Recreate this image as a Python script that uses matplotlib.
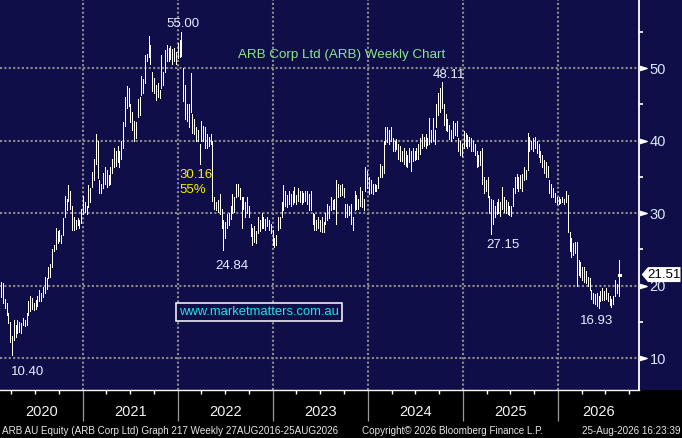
import numpy as np
import pandas as pd
import matplotlib
matplotlib.use('Agg')
import matplotlib.pyplot as plt
import matplotlib.dates as mdates
import matplotlib.ticker as mticker
import matplotlib.transforms as mtransforms
from matplotlib.patches import Polygon, Rectangle

# ARB Corp Ltd weekly bars (high / low per week)
weeks = pd.date_range('2020-02-21', periods=340, freq='7D')

high = [
    20.5, 20.3, 18.2, 17.6, 16.2, 15.0, 13.0, 15.3, 14.6, 15.2,
    15.0, 14.8, 15.5, 15.3, 16.2, 17.8, 18.5, 18.3, 17.6, 18.0,
    18.6, 19.4, 19.0, 19.8, 21.2, 21.0, 22.6, 23.0, 25.0, 25.6,
    28.0, 27.5, 27.6, 27.0, 29.3, 32.4, 32.0, 33.8, 33.0, 31.0,
    29.5, 29.0, 29.3, 29.0, 30.5, 32.4, 31.5, 31.0, 33.8, 33.5,
    35.6, 37.5, 40.9, 40.0, 34.5, 34.0, 35.5, 36.3, 36.0, 35.2,
    36.3, 37.5, 39.0, 38.6, 39.2, 38.5, 40.0, 42.5, 46.0, 47.5,
    47.2, 45.0, 44.0, 42.7, 42.5, 45.7, 46.0, 48.9, 48.5, 51.8,
    52.0, 54.4, 53.2, 49.5, 48.6, 47.7, 48.0, 47.0, 51.8, 49.5,
    52.5, 53.2, 52.8, 53.0, 52.6, 52.8, 52.2, 53.5, 53.8, 55.0,
    50.0, 47.7, 45.0, 45.0, 49.3, 43.6, 43.0, 41.8, 41.5, 39.5,
    42.7, 42.0, 41.8, 40.9, 40.5, 40.9, 40.0, 32.2, 31.5, 31.8,
    32.6, 30.5, 29.0, 28.8, 29.9, 30.0, 31.0, 32.6, 32.2, 34.0,
    34.0, 33.5, 32.2, 32.2, 31.5, 32.2, 31.0, 28.5, 28.0, 28.2,
    27.5, 29.5, 29.0, 30.0, 29.5, 29.2, 29.5, 29.0, 28.5, 27.6,
    26.5, 27.0, 29.5, 29.5, 31.5, 33.8, 33.0, 32.5, 33.1, 32.6,
    33.1, 33.6, 32.5, 33.4, 33.0, 33.1, 32.8, 33.0, 33.1, 32.6,
    33.1, 30.0, 29.9, 29.0, 29.5, 29.0, 29.5, 28.8, 30.0, 31.3,
    31.0, 32.2, 31.8, 32.0, 34.5, 34.0, 33.8, 34.0, 33.5, 31.3,
    31.3, 31.0, 31.3, 29.5, 33.1, 32.5, 32.0, 33.6, 33.0, 32.0,
    36.3, 35.8, 34.9, 34.5, 34.0, 34.0, 33.8, 35.0, 36.8, 36.5,
    40.0, 41.8, 41.8, 41.5, 41.8, 40.4, 40.0, 40.2, 39.5, 39.2,
    38.5, 39.0, 38.5, 38.0, 39.0, 38.5, 39.0, 38.5, 39.0, 39.5,
    40.4, 40.9, 40.5, 40.9, 40.4, 43.1, 41.5, 43.1, 41.5, 45.0,
    46.5, 47.2, 48.11, 45.0, 43.6, 43.0, 42.2, 41.5, 42.7, 42.4,
    42.7, 40.4, 40.0, 39.5, 41.3, 41.0, 40.8, 40.5, 40.4, 40.0,
    39.5, 38.6, 38.0, 38.5, 39.0, 35.0, 34.5, 35.0, 32.4, 32.0,
    31.8, 31.0, 31.5, 32.0, 31.5, 33.6, 32.2, 31.8, 31.5, 31.0,
    31.0, 33.5, 35.0, 35.4, 35.0, 35.2, 35.4, 36.3, 36.0, 41.1,
    40.5, 40.0, 40.3, 40.5, 40.0, 39.5, 38.6, 38.0, 37.3, 37.0,
    36.5, 34.5, 34.0, 33.5, 32.7, 32.2, 32.2, 32.0, 32.2, 32.0,
    33.1, 32.5, 27.4, 26.5, 25.8, 26.0, 26.0, 23.5, 23.2, 22.6,
    22.5, 22.0, 21.2, 21.0, 19.4, 19.0, 18.8, 18.9, 18.6, 19.2,
    19.6, 19.2, 19.6, 19.0, 18.5, 18.2, 18.5, 20.8, 20.2, 23.5,
]

low = [
    18.4, 17.6, 16.9, 15.9, 14.8, 12.2, 10.4, 12.5, 12.9, 13.5,
    13.6, 13.5, 14.6, 14.4, 14.6, 15.9, 16.5, 16.8, 16.6, 16.7,
    17.2, 17.9, 17.8, 18.4, 19.0, 19.5, 21.0, 21.2, 22.5, 24.8,
    25.0, 25.8, 26.2, 25.9, 26.9, 29.5, 30.4, 31.7, 30.5, 27.6,
    27.6, 27.8, 28.4, 28.0, 28.6, 29.9, 30.2, 29.9, 30.8, 31.5,
    33.6, 34.5, 36.8, 34.8, 32.7, 32.7, 33.5, 34.0, 33.6, 33.8,
    34.0, 35.5, 36.3, 36.5, 37.0, 36.4, 37.5, 39.0, 42.0, 44.5,
    44.8, 42.5, 41.5, 40.0, 40.4, 43.2, 43.5, 46.3, 46.5, 48.0,
    50.9, 51.5, 50.5, 46.8, 46.5, 45.6, 46.0, 45.8, 47.2, 47.7,
    49.5, 51.0, 50.9, 51.2, 50.5, 51.0, 50.5, 51.4, 51.5, 51.6,
    45.4, 43.0, 42.7, 41.8, 44.0, 41.0, 40.9, 40.0, 40.0, 36.8,
    40.0, 40.0, 39.0, 39.0, 39.2, 39.5, 31.7, 30.5, 30.4, 30.2,
    29.9, 28.0, 24.84, 26.5, 28.0, 28.3, 29.2, 30.0, 30.2, 32.2,
    32.4, 32.0, 28.0, 30.5, 29.5, 30.0, 29.5, 26.8, 25.6, 26.0,
    25.8, 27.2, 27.5, 28.0, 28.0, 27.6, 28.2, 27.6, 27.3, 25.6,
    25.3, 25.6, 27.6, 28.0, 29.5, 30.4, 31.0, 30.8, 31.2, 31.0,
    31.3, 31.5, 31.3, 31.6, 31.5, 31.3, 31.5, 31.6, 31.2, 30.4,
    30.4, 28.5, 27.6, 27.6, 28.0, 27.5, 27.4, 27.4, 28.5, 29.0,
    29.3, 30.4, 30.5, 30.6, 28.5, 32.2, 32.3, 32.5, 32.2, 29.5,
    29.5, 29.7, 28.5, 27.6, 30.4, 30.6, 30.5, 31.0, 30.8, 30.4,
    33.1, 33.5, 32.6, 32.8, 32.6, 33.1, 33.0, 33.5, 34.9, 35.0,
    35.5, 39.5, 39.8, 39.5, 40.0, 38.6, 38.6, 38.8, 37.4, 37.2,
    37.2, 36.8, 36.5, 36.3, 37.0, 35.8, 37.2, 37.3, 37.5, 37.5,
    38.1, 39.0, 39.2, 39.0, 39.4, 39.5, 39.8, 40.0, 39.5, 41.8,
    43.5, 44.0, 44.5, 42.2, 41.5, 41.3, 40.2, 40.0, 40.4, 40.8,
    40.6, 38.6, 38.0, 37.9, 39.0, 39.2, 39.0, 39.3, 38.6, 38.6,
    38.0, 36.3, 36.5, 36.6, 34.0, 32.8, 33.0, 32.2, 30.0, 27.15,
    28.5, 29.5, 29.8, 30.0, 29.6, 30.5, 30.2, 30.0, 29.8, 29.7,
    29.6, 31.0, 32.7, 33.5, 33.1, 33.4, 33.1, 34.5, 34.7, 36.0,
    38.6, 38.8, 38.5, 39.0, 38.3, 37.7, 37.0, 36.3, 35.5, 35.0,
    35.0, 32.8, 32.2, 32.2, 31.5, 31.3, 31.2, 31.4, 31.5, 31.3,
    31.5, 27.4, 24.8, 24.0, 24.2, 24.5, 19.9, 21.5, 21.2, 20.8,
    20.5, 20.3, 20.0, 19.4, 18.2, 17.6, 17.5, 17.2, 16.93, 17.8,
    18.0, 18.0, 18.2, 17.8, 17.3, 17.1, 17.4, 18.5, 18.9, 18.5,
]
last_close = 21.51

# turning points that get a price label: (week index, 'high'/'low', offset in points)
peak_labels = [(99, 'high', (0.8, 3.4)), (242, 'high', (5.3, 2.7))]
trough_labels = [(6, 'low', (11.5, -14.4)), (122, 'low', (6.5, -13.4)),
                 (269, 'low', (8.4, -10.3)), (328, 'low', (-1.5, -11.7))]

years = [2020, 2021, 2022, 2023, 2024, 2025, 2026]
price_ticks = [10, 20, 30, 40, 50]
price_minor = [15, 25, 35, 45, 55]

navy = '#100e48'
grid_col = '#8c8c8c'
axis_txt = '#dce6ff'
sans = ['Liberation Sans', 'DejaVu Sans']

W, H = 682, 438
fig = plt.figure(figsize=(W / 100, H / 100), dpi=100)
fig.patch.set_facecolor('black')
top_h = 390 / H
fig.add_artist(Rectangle((0, 1 - top_h), 1, top_h, transform=fig.transFigure,
                         facecolor=navy, edgecolor='none', zorder=0))

ax = fig.add_axes([0, 1 - top_h, 639 / W, top_h])
ax.set_facecolor(navy)

ax.vlines(weeks, low, high, color='white', lw=0.6, zorder=3, antialiased=False)
ax.plot([weeks[-1], weeks[-1] + pd.Timedelta(days=5)], [last_close, last_close],
        color='white', lw=0.8, zorder=3, antialiased=False)

x0 = pd.Timestamp('2020-02-17')
x1 = pd.Timestamp('2026-11-07')
ax.set_xlim(x0, x1)
ax.set_ylim(5.59, 59.38)

# grid
ax.xaxis.set_major_locator(mdates.YearLocator())
ax.xaxis.set_minor_locator(mdates.MonthLocator(bymonth=[4, 7, 10]))
ax.xaxis.set_major_formatter(mticker.NullFormatter())
ax.yaxis.set_major_locator(mticker.FixedLocator(price_ticks))
ax.yaxis.set_minor_locator(mticker.FixedLocator(price_minor))
ax.grid(True, which='major', color=grid_col, lw=1.5, linestyle=(0, (1, 1.1)), zorder=1)
ax.set_axisbelow(True)

for s in ['top', 'left']:
    ax.spines[s].set_visible(False)
ax.spines['right'].set_color('white')
ax.spines['right'].set_linewidth(1.3)
ax.spines['bottom'].set_color('white')
ax.spines['bottom'].set_linewidth(1.0)

ax.yaxis.tick_right()
ax.tick_params(axis='y', which='major', length=0, pad=7.5, labelsize=10.5,
               labelcolor=axis_txt)
ax.tick_params(axis='y', which='minor', length=3, width=1.2, color='white')
for lab in ax.get_yticklabels():
    lab.set_fontfamily(sans)
ax.tick_params(axis='x', which='major', length=22, width=0.9, color='#9a9a9a')
ax.tick_params(axis='x', which='minor', length=3, width=1.0, color='white')

# right-hand arrow heads at each price level
tri = [(-1, -0.6), (1, 0), (-1, 0.6)]
ax.plot([1 + 3.8 / 639] * len(price_ticks), price_ticks, linestyle='none',
        marker=tri, markersize=5.2, color='white', clip_on=False,
        transform=ax.get_yaxis_transform(), zorder=5)

# year labels centred in the visible part of each year
xt = ax.get_xaxis_transform()
for yr in years:
    a = max(pd.Timestamp(f'{yr}-01-01'), x0)
    b = min(pd.Timestamp(f'{yr + 1}-01-01'), x1)
    mid = a + (b - a) / 2
    ax.text(mid, -22 / 390, str(yr), transform=xt, ha='center', va='center',
            color='#f2f2f2', fontsize=10.5, family=sans, fontstretch='condensed')

# price labels at turning points
for i, kind, off in peak_labels + trough_labels:
    v = high[i] if kind == 'high' else low[i]
    ax.annotate(f'{v:.2f}', xy=(weeks[i], v), xytext=off, textcoords='offset points',
                ha='center', va='baseline', color='#e8eeff', fontsize=9.5,
                family=sans, zorder=6)

# size of the 2021-22 fall
top = max(high)
bottom = low[122]
drop = top - bottom
ax.text(pd.Timestamp('2022-01-05'), 34.83, f'{drop:.2f}', ha='left', va='baseline',
        color='#f2f200', fontsize=9.5, family=sans, zorder=6)
ax.text(pd.Timestamp('2022-01-05'), 32.76, f'{drop / top * 100:.0f}%', ha='left',
        va='baseline', color='#f2f200', fontsize=9.5, family=sans, zorder=6)

ax.text(0.535, 1 - 55 / 390, 'ARB Corp Ltd (ARB) Weekly Chart', transform=ax.transAxes,
        ha='center', va='center', color='#8ee48e', fontsize=9.6, family=sans, zorder=6)

ax.text(0.405, 0.2, 'www.marketmatters.com.au', transform=ax.transAxes,
        ha='center', va='center', color='#1ee2e6', fontsize=9.4, family=sans, zorder=6,
        bbox=dict(boxstyle='square,pad=0.22', fc=navy, ec='white', lw=1.1))

# last price tag on the right axis
anchor = mtransforms.ScaledTranslation(1, last_close, ax.get_yaxis_transform())
tag = Polygon(np.array([(2.7, 0), (9, 7.5), (41.5, 7.5), (41.5, -7.5), (9, -7.5)]) / 100,
              closed=True, transform=fig.dpi_scale_trans + anchor,
              facecolor='white', edgecolor='none', clip_on=False, zorder=7)
ax.add_artist(tag)
ax.annotate(f'{last_close:.2f}', xy=(1, last_close), xycoords=('axes fraction', 'data'),
            xytext=(25.5 * 0.72, 0), textcoords='offset points', ha='center', va='center',
            color='black', fontsize=9.5, family=sans, annotation_clip=False, zorder=8)

# footer
fy = 1 - 431 / H
foot = dict(va='center', color='#e6e6e6', fontsize=7.1, family=sans, fontstretch='condensed')
fig.text(2 / W, fy, 'ARB AU Equity (ARB Corp Ltd) Graph 217 Weekly 27AUG2016-25AUG2026',
         ha='left', **foot)
fig.text(362 / W, fy, 'Copyright\u00a9 2026 Bloomberg Finance L.P.', ha='left', **foot)
fig.text(680 / W, fy, '25-Aug-2026 16:23:39', ha='right', **foot)

fig.savefig('out.png', dpi=100, facecolor=fig.get_facecolor())
